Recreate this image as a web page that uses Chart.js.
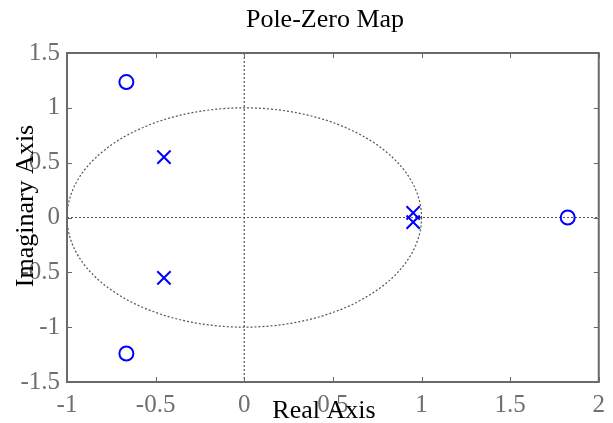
<!DOCTYPE html>
<html>
<head>
<meta charset="utf-8">
<script src="https://cdn.jsdelivr.net/npm/chart.js@4/dist/chart.umd.min.js"></script>
<style>
  html, body { margin: 0; padding: 0; background: #fff; }
  #wrap { width: 613px; height: 423px; }
</style>
</head>
<body>
<div id="wrap"><canvas id="pz" width="613" height="423"></canvas></div>
<script>
// Pole and zero locations (real, imaginary)
const zeroRe = [-0.665, -0.665, 1.825];
const zeroIm = [1.235, -1.24, 0];
const poleRe = [-0.453, -0.453, 0.953, 0.953];
const poleIm = [0.55, -0.55, 0.042, -0.042];

// Axis ranges and tick spacing
const xRange = [-1, 2];
const yRange = [-1.5, 1.5];
const tickStep = 0.5;

const titleText = 'Pole-Zero Map';
const xTitle = 'Real Axis';
const yTitle = 'Imaginary Axis';

const serif = '"Liberation Serif", "Times New Roman", serif';
const frameColor = '#6a6a6a';
const tickColor = '#6f6f6f';
const refColor = '#555555';
const markColor = '#0000ff';

const toPoints = (re, im) => re.map((v, i) => ({ x: v, y: im[i] }));

// Frame, inward tick marks, unit circle, reference axes and titles
const decorations = {
  id: 'pzDecorations',
  beforeDatasetsDraw(chart) {
    const { ctx, chartArea: a, scales: { x, y } } = chart;
    const cx = x.getPixelForValue(0), cy = y.getPixelForValue(0);
    ctx.save();
    ctx.strokeStyle = refColor;
    ctx.lineWidth = 1.2;
    ctx.setLineDash([2, 2]);
    // unit circle
    ctx.beginPath();
    ctx.ellipse(cx, cy, x.getPixelForValue(1) - cx, cy - y.getPixelForValue(1), 0, 0, Math.PI * 2);
    ctx.stroke();
    // real and imaginary reference lines
    ctx.beginPath();
    ctx.moveTo(a.left, cy); ctx.lineTo(a.right, cy);
    ctx.moveTo(cx, a.top); ctx.lineTo(cx, a.bottom);
    ctx.stroke();
    ctx.restore();
  },
  afterDraw(chart) {
    const { ctx, chartArea: a, scales: { x, y } } = chart;
    ctx.save();
    // inward ticks on all four sides
    ctx.strokeStyle = frameColor;
    ctx.lineWidth = 1;
    ctx.beginPath();
    x.ticks.forEach(t => {
      const px = Math.round(x.getPixelForValue(t.value)) + 0.5;
      ctx.moveTo(px, a.bottom); ctx.lineTo(px, a.bottom - 5);
      ctx.moveTo(px, a.top); ctx.lineTo(px, a.top + 5);
    });
    y.ticks.forEach(t => {
      const py = Math.round(y.getPixelForValue(t.value)) + 0.5;
      ctx.moveTo(a.left, py); ctx.lineTo(a.left + 5, py);
      ctx.moveTo(a.right, py); ctx.lineTo(a.right - 5, py);
    });
    ctx.stroke();
    // frame
    ctx.lineWidth = 2;
    ctx.strokeRect(a.left, a.top, a.right - a.left, a.bottom - a.top);
    // titles
    ctx.fillStyle = '#000';
    ctx.font = '26px ' + serif;
    ctx.textAlign = 'center';
    ctx.textBaseline = 'alphabetic';
    ctx.fillText(titleText, 325, 27);
    ctx.fillText(xTitle, 324, 418);
    ctx.translate(33, 206);
    ctx.rotate(-Math.PI / 2);
    ctx.fillText(yTitle, 0, 0);
    ctx.restore();
  }
};

const tickFont = { family: serif, size: 25 };

new Chart(document.getElementById('pz'), {
  type: 'scatter',
  data: {
    datasets: [
      {
        label: 'Zeros',
        data: toPoints(zeroRe, zeroIm),
        pointStyle: 'circle',
        pointRadius: 7,
        pointBorderWidth: 2,
        borderColor: markColor,
        backgroundColor: 'rgba(0,0,0,0)'
      },
      {
        label: 'Poles',
        data: toPoints(poleRe, poleIm),
        pointStyle: 'crossRot',
        pointRadius: 9.4,
        pointBorderWidth: 2,
        borderColor: markColor,
        backgroundColor: markColor
      }
    ]
  },
  options: {
    responsive: false,
    devicePixelRatio: 1,
    animation: false,
    layout: { padding: { top: 53, right: 14, left: 0, bottom: 0 } },
    plugins: { legend: { display: false }, tooltip: { enabled: false }, title: { display: false } },
    scales: {
      x: {
        type: 'linear',
        min: xRange[0], max: xRange[1],
        afterFit(s) { s.height = 41; },
        border: { display: false },
        grid: { display: true, drawOnChartArea: false, drawTicks: false },
        ticks: {
          stepSize: tickStep, color: tickColor, font: tickFont, padding: 8,
          maxRotation: 0, autoSkip: false,
          callback: v => String(v)
        }
      },
      y: {
        type: 'linear',
        min: yRange[0], max: yRange[1],
        afterFit(s) { s.width = 67; },
        border: { display: false },
        grid: { display: true, drawOnChartArea: false, drawTicks: false },
        ticks: {
          stepSize: tickStep, color: tickColor, font: tickFont, padding: 7,
          autoSkip: false,
          callback: v => String(v)
        }
      }
    }
  },
  plugins: [decorations]
});
</script>
</body>
</html>
